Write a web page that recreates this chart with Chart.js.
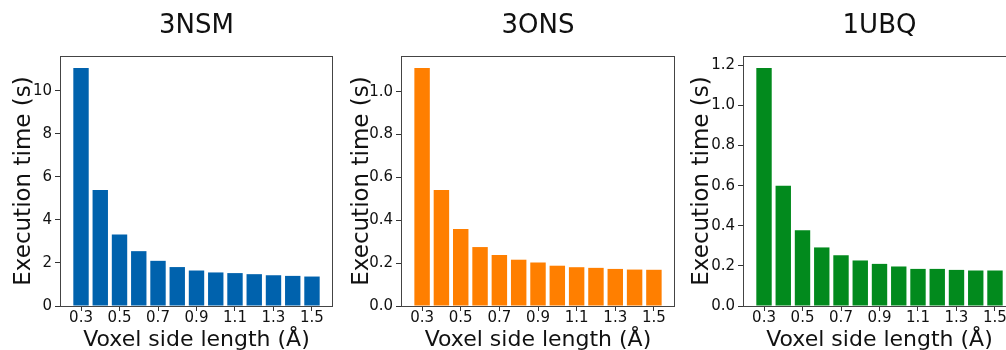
<!DOCTYPE html>
<html>
<head>
<meta charset="utf-8">
<script src="https://cdn.jsdelivr.net/npm/chart.js@4/dist/chart.umd.min.js"></script>
<style>
  html, body { margin: 0; padding: 0; background: #fff; overflow: hidden; }
  #wrap { position: relative; width: 1006px; height: 350px; overflow: hidden; }
  canvas { position: absolute; top: 0; }
</style>
</head>
<body>
<div id="wrap">
  <canvas id="c1" width="340" height="350" style="left:0px"></canvas>
  <canvas id="c2" width="340" height="350" style="left:340px"></canvas>
  <canvas id="c3" width="345" height="350" style="left:680px"></canvas>
</div>
<script>
// ---- data ----
const voxelSizes = [0.3, 0.4, 0.5, 0.6, 0.7, 0.8, 0.9, 1.0, 1.1, 1.2, 1.3, 1.4, 1.5];
const xTickValues = [0.3, 0.5, 0.7, 0.9, 1.1, 1.3, 1.5];
const titles = ["3NSM", "3ONS", "1UBQ"];
const times3NSM = [11.07, 5.39, 3.33, 2.55, 2.10, 1.81, 1.65, 1.56, 1.53, 1.48, 1.43, 1.40, 1.37];
const times3ONS = [1.111, 0.541, 0.359, 0.275, 0.238, 0.216, 0.203, 0.188, 0.181, 0.178, 0.173, 0.170, 0.169];
const times1UBQ = [1.187, 0.600, 0.378, 0.292, 0.253, 0.227, 0.210, 0.197, 0.185, 0.185, 0.180, 0.177, 0.177];
const yTicks3NSM = [0, 2, 4, 6, 8, 10];
const yTicks3ONS = [0.0, 0.2, 0.4, 0.6, 0.8, 1.0];
const yTicks1UBQ = [0.0, 0.2, 0.4, 0.6, 0.8, 1.0, 1.2];
const xLabel = "Voxel side length (Å)";
const yLabel = "Execution time (s)";

const FONT = "'DejaVu Sans', 'Liberation Sans', sans-serif";
const TXT = '#111';

const framePlugin = {
  id: 'frame',
  afterDatasetsDraw(chart) {
    const a = chart.chartArea, ctx = chart.ctx;
    ctx.save();
    ctx.strokeStyle = '#444';
    ctx.lineWidth = 1;
    ctx.strokeRect(Math.round(a.left) - 0.5, Math.round(a.top) + 0.5,
                   Math.round(a.right) - Math.round(a.left) + 1, Math.round(a.bottom) - Math.round(a.top));
    ctx.restore();
  }
};

function makePanel(id, title, values, yTicks, decimals, color, plotLeft, padRight, yTitlePad) {
  const step = voxelSizes[1] - voxelSizes[0];
  const barW = 0.8 * step;
  const lo = voxelSizes[0] - barW / 2, hi = voxelSizes[voxelSizes.length - 1] + barW / 2;
  const margin = 0.05 * (hi - lo);
  const yMax = Math.max(...values) * 1.05;
  new Chart(document.getElementById(id), {
    type: 'bar',
    data: {
      datasets: [{
        data: voxelSizes.map((v, i) => ({ x: v, y: values[i] })),
        backgroundColor: color,
        borderWidth: 0,
        barPercentage: 0.8,
        categoryPercentage: 1.0
      }]
    },
    options: {
      responsive: false,
      animation: false,
      events: [],
      layout: { padding: { left: 0, right: padRight, top: 0, bottom: 0 } },
      plugins: {
        legend: { display: false },
        tooltip: { enabled: false },
        title: {
          display: true, text: title, fullSize: false, color: TXT,
          font: { family: FONT, size: 26, weight: 'normal', lineHeight: 1.2 },
          padding: { top: 10.4, bottom: 14.4 }
        }
      },
      scales: {
        x: {
          type: 'linear',
          min: lo - margin, max: hi + margin,
          offset: false,
          afterBuildTicks: s => { s.ticks = xTickValues.map(v => ({ value: v })); },
          afterFit: s => { s.height = 44; },
          ticks: {
            autoSkip: false, maxRotation: 0, minRotation: 0, padding: 0, color: TXT,
            font: { family: FONT, size: 15, lineHeight: 1.0 },
            callback: v => Number(v).toFixed(1)
          },
          grid: { offset: false, drawOnChartArea: false, drawTicks: true, tickLength: 5, color: '#333', tickWidth: 1 },
          border: { display: false },
          title: {
            display: true, text: xLabel, color: TXT,
            font: { family: FONT, size: 22, lineHeight: 1.0 },
            padding: { top: 0, bottom: -1.4 }
          }
        },
        y: {
          type: 'linear',
          min: 0, max: yMax,
          afterBuildTicks: s => { s.ticks = yTicks.map(v => ({ value: v })); },
          afterFit: s => { s.width = plotLeft; },
          ticks: {
            padding: 3, color: TXT,
            font: { family: FONT, size: 15, lineHeight: 1.0 },
            callback: v => Number(v).toFixed(decimals)
          },
          grid: { drawOnChartArea: false, drawTicks: true, tickLength: 6, color: '#333', tickWidth: 1 },
          border: { display: false },
          title: {
            display: true, text: yLabel, color: TXT,
            font: { family: FONT, size: 23, lineHeight: 1.2 },
            padding: { top: yTitlePad, bottom: 0 }
          }
        }
      }
    },
    plugins: [framePlugin]
  });
}

makePanel('c1', titles[0], times3NSM, yTicks3NSM, 0, '#0062ad', 61, 8, 10.2);
makePanel('c2', titles[1], times3ONS, yTicks3ONS, 1, '#ff7f00', 62, 6, 8.2);
makePanel('c3', titles[2], times1UBQ, yTicks1UBQ, 1, '#028a1d', 64, 10, 8.2);
</script>
</body>
</html>
